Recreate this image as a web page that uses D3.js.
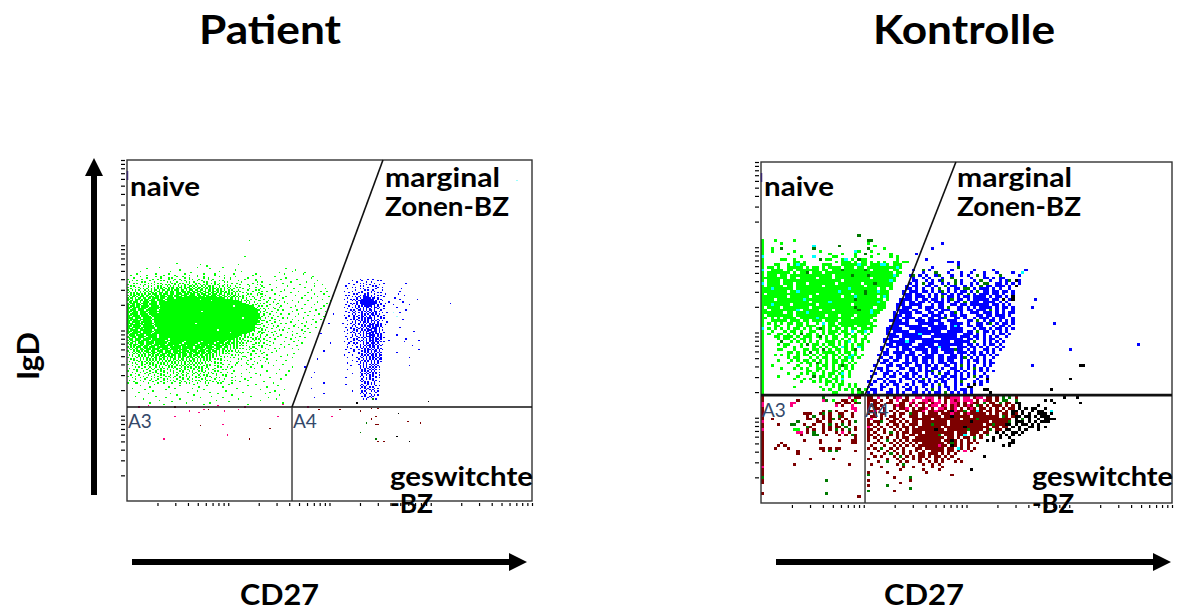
<!DOCTYPE html>
<html lang="en">
<head>
<meta charset="UTF-8">
<title>Patient / Kontrolle</title>
<script src="https://d3js.org/d3.v7.min.js"></script>
<style>
  html, body { margin: 0; background: #fff; }
  svg { display: block; }
  text { font-family: Lato, sans-serif; font-weight: 700; fill: #000; }
  .cells rect { shape-rendering: crispEdges; }
  .tick line { stroke-width: 1.2; }
</style>
</head>
<body>
<svg width="1180" height="611"></svg>
<script>
// Patient panel, channels 0-255 on both axes
// naive cloud, one string per row from channel y=170 downwards, starting at x=0
const patientNaiveTop = 170;
const patientNaiveBand = [
  "......#...........#.......#.........#...........#......#...........#.............#.......",
  "..#.........#..........#......#........#....#..........#.....#.................#.........",
  "........#.........#..#.........#...#........#...#.........#.........#...............#....",
  "....#.......#........#....#.#.......#..#........#..#.........#...#..........#............",
  "#........#......#..#......#...#..#.....#.#...#.....#..#..........#........#......#.......",
  "...#..#.......#......#.#.....#....#.#.......#..#.....#....#.#.........#..........#.......",
  ".#.......#.#.....#.......#.#...#.....#.#..#.....#.#....#.....#.#........#.........#..#...",
  "....#.#......#.#...#.#......#.#..#.#...#...#.#....#..#.#..#.......#..#.........#.........",
  "#.......#..#.....#....#.#.#...#.#...#.#..#.#..#.#.#....#.#...#.#.......#....#.....#......",
  "..#.#.....#..#.#...#.#...#.#.#..#.#.#..##.#.#..#.#.##.#...#.#..#.#..#........#.......#...",
  "#....#.#.....#...#.#.#.#..#.##.#.##.#.##.#.#.##.#.#.#.#.#.#..#..#....#.#.........#.......",
  "..#.....#.#.#..#.#.#.##.#.#.##.##.#.##.##.#.##.#.##.#.##.#.#.#.#.#.#.....#...#......#....",
  "#..#.#.#...#.#.#.##.#.##.##.#.###.##.#.###.##.##.#.##.#.##.#.#..#.#...#.....#....#.......",
  ".#...#..#.#.#.##.#.##.#.##.###.##.###.##.##.###.##.##.##.#.##.#.#..#.#.#.......#.....#...",
  "#.#.#.#.#..#.#.##.#.###.##.###.###.##.###.###.##.###.##.##.#.##.#.#.#....#.#.......#.....",
  "..#.#.##.#.#.##.###.##.###.###.####.###.###.##.###.##.###.##.#.##.#.#.#.....#.#.....#....",
  "#.#.##.#.##.##.#.###.###.####.###.####.####.###.####.###.##.##.#.#.##.#..#.#......#......",
  ".#.##.#.###.#.###.##.####.###.#####.###.####.####.###.###.##.##.#.##.#.#.#...#.#.....#...",
  "#.##.#.##.##.##.####.###.#####.####.####.#####.###.####.###.##.#.##.#.#..#.#....#........",
  "##.#.###.#.###.###.####.#####.#####.#####.####.#####.###.####.##.##.#.#.#..#..#..#....#..",
  "#.##.##.##.##.####.#####.#####.#####.#####.#####.####.#####.###.##.#.##.#.#.#.......#....",
  ".##.###.#.####.####.######.#####.######.#####.#####.#####.####.###.##.#.#..#.#..#........",
  "#.###.##.####.#####.#####.######.######.######.#####.#####.####.##.#.##.#.#..#....#.#....",
  "##.##.###.###.#####.######.#######.######.#######.######.#####.###.##.#.#.#.#..#.........",
  "#.###.##.#####.#####.#######.#######.#######.#######.#####.#####.##.###.#.#..#.#...#.#...",
  "###.####.####.######.#######.########.#######.#######.######.####.##.#.##.#.#.....#......",
  "##.###.#####.#######.########.#######.########.#######.#####.#####.###.#.#..#.#.#.....#..",
  "#.####.####.#######.########.########.#########.######.######.####.##.#.##.#.....#.#.....",
  "###.###.#####.#####.#########.########.########.#########.#####.####.##.#.#.#.#.....#....",
  "##.####.####.######.##########.#########.########.##########.####.###.##.#..#.#.#...#....",
  "#.#####.#####.########.#########.##########.##########.#########.####.#.##.#.#.....#..#..",
  "###.####.#####.#########.##########.###########.###########.#####.###.##.#.#..#.#........",
  "##.#####.######.#########.###########.###########.##########.####.###.#.#.##.#...#.#.....",
  "####.####.######.##########.###########.##########.###########.####.##.##.#.#.#.....#....",
  "#.#####.#######.###########.############.###########.#########.#####.##.#.#.#...#.#......",
  "###.#####.######.###########.############.##########.#########.####.###.#.##.#.#.....#...",
  "##.#####.#######.############.###########.#############.#######.#####.##.#.#..#..#.#......",
  "####.#####.######.###########.#############.###########.#########.###.###.#.#.#.#....#....",
  "#.######.#######.#############.###########.#############.#######.####.##.##.#.#...#.#.....",
  "###.#####.#######.###########.##############.###########.#########.###.#.##.#.#.#.....#..",
  "##.#####.#########.###########.#############.#############.######.####.##.#.#..#.#.......",
  "####.#####.#######.#############.############.###########.#######.###.###.#.#.#....#.#....",
  "#.#####.########.##############.#############.###########.######.####.##.#.##.#.#........",
  "###.#####.#######.############.#############.############.#######.###.#.##.#..#.#...#....",
  "##.######.######.############.#############.###########.#########.###.##.#.#.#.....#.#....",
  "#.#####.#######.#############.###########.############.#######.####.##.#.#.#.#.#.........",
  ".####.#####.#######.##########.############.##########.#########.###.#.##.#..#.#....#....",
  "#.####.#####.######.###########.##########.###########.######.####.##.#.#.#.#.....#......",
  "##.###.####.#######.##########.###########.#########.########.###.##.#.#..#.#.#.....#....",
  ".###.####.#####.##########.##########.###########.#########.####.###.#.#.#.....#.#.......",
  "#.##.###.#####.#########.###########.#########.##########.#####.##.#.#..#.#.#.......#....",
  ".#.###.####.#####.########.#########.##########.#########.####.###.#.##.#...#.#..........",
  "#.##.#.####.#####.#######.#########.#########.#########.#####.###.##.#.#.#.#.....#.#.....",
  ".##.###.###.####.#######.########.#########.#######.#######.###.##.#.#..#.......#........",
  "..#.##.###.###.#####.########.#######.########.#######.######.##.#.#.#.#.#.#.........#...",
  "#.#.#.###.###.####.#######.#######.#######.######.#####.####.###.#.#.#.......#.#.........",
  ".#.#.##.##.####.#####.#####.######.#######.#####.#####.####.##.#.#.#.#.#.#.......#.......",
  "..#.#.#.###.###.####.#####.#####.#####.######.####.####.###.##.#.#..#......#.#...........",
  "#...#.##.#.###.###.####.####.#####.####.####.####.###.###.#.#.#.#.#.#.#.........#........",
  ".#.#.#.##.#.###.###.###.####.###.####.###.####.###.###.##.#.#..#.....#.#.#...............",
  "....#.#.#.##.#.###.##.###.###.####.###.###.###.##.###.#.#.#.#.#.#.......#.....#..........",
  ".#.#...#.#.#.##.#.##.###.##.###.##.###.##.###.##.##.#.#.#.#.......#.#.#..................",
  "...#.#.#.#.#.#.##.#.##.##.###.#.##.##.###.#.##.##.#.#.#.#..#.#.#.........#...............",
  "#.....#.#.#.##.#.##.#.##.#.##.#.##.#.##.##.#.#.##.#.#.#......#...#.#.......#.............",
  "..#.#...#.#.#.#.#.#.##.#.#.#.##.#.##.#.#.##.#.#.#.#.#..#.#.#..........#..................",
  "....#.#.#...#.#.#.#.#.#.#.##.#.#.#.#.#.##.#.#.#.#.#.#......#.#.#............#............",
  ".#.....#.#.#.#.#.#.#..#.#.#.#.#.#.#.#.#.#.#.#.#..#.#.#.#.........#.......................",
  "...#.#...#..#.#.#..#.#.#.#..#.#.#.#.#..#.#.#.#.#.#.....#.#.#.........#...................",
  "#.....#..#.#..#.#.#..#.#.#.#.#.#..#.#.#.#.#.#.#...#.#.......#...#...........#............",
  "...#.....#...#..#.#.#...#.#.#..#.#.#.#.#..#.#...#.#.#..#.#..........#....................",
  ".....#.#...#..#...#.#.#...#.#.#...#.#.#.#..#.#.#..#......#.#...#.........................",
  ".#.......#...#.#.#...#.#.#...#.#.#..#...#.#..#.#.#.#...#.........#.......................",
  "....#.#.....#...#..#.#...#.#...#..#.#.#...#.#..#...#..#.....#.#............#.............",
  "#.....#...#...#...#..#.#...#.#...#.#...#.#...#.#.#.....#.#.........#.....................",
  "...#....#...#...#.#....#.#...#.#...#.#...#.#....#..#.#.....#...#.........................",
  ".....#.....#..#....#.#...#...#..#.#...#...#.#.#....#..#.#.........#..............#.......",
  "..#....#.....#...#...#.#...#...#...#.#...#...#..#.#.....#...#.#..........................",
  "#....#....#....#...#....#.#...#..#...#.#...#..#...#.#.........#.........#................",
  "...#....#...#....#...#.....#.#...#.#...#...#.#...#...#..#.#.......#......................",
  ".....#.....#...#...#...#.#.....#...#..#..#.....#.#.....#.....#...........................",
  ".#......#.....#...#....#...#.#...#.....#...#.#....#.#.....#.........#.......#............",
  "....#.....#.....#....#...#....#...#.#....#....#..#....#.#...#............................",
  "#.....#......#.....#...#....#....#...#.#....#....#.#.....#........#......................"
];
// solid middle of the naive cloud: [y, x0, x1, x0, x1 ...]
const patientNaiveCore = [
  [153,38,42,50,56],[152,32,40,46,60],[151,28,44,47,66],[150,30,52,55,70],[149,26,48,50,72],[148,24,60,63,74],
  [147,22,42,45,76],[146,28,66,68,78],[145,20,50,52,80],[144,24,38,40,81],[143,22,58,60,80],[142,18,46,49,82],
  [141,26,70,72,82],[140,20,34,36,83],[139,24,60,62,82],[138,18,44,46,83],[137,22,72,74,84],[136,16,38,40,82],
  [135,24,54,56,83],[134,20,66,68,82],[133,22,42,44,81],[132,18,60,62,82],[131,26,48,50,80],[130,20,70,72,81],
  [129,24,36,38,80],[128,22,56,58,79],[127,26,44,46,78],[126,24,64,66,76],[125,28,50,52,75],[124,26,38,41,72],
  [123,30,58,60,70],[122,28,46,49,68],[121,32,54,56,64],[120,34,42,46,60]
];
// the thin right wing of the cloud: [y, x, x, x ...]
const patientNaiveWing = [
  [162,84,90],[160,86,94],[158,83,91],[157,88,97],[155,82,85,93],[154,87,96],[152,84,90,98],[151,86,93],[150,83,89,96],
  [149,88,92,99],[148,84,86,95],[147,81,90,94],[146,85,88,97],[145,92,96],[144,84,89,93],[143,82,87,95,98],[142,86,91],
  [141,84,88,94],[140,90,97],[139,83,86,92],[138,85,89,95],[137,87,91,98],[136,84,93],[135,86,90,96],[134,82,88,93],
  [133,85,91,97],[132,83,89],[131,86,92,95],[130,84,88,94],[129,82,91],[128,85,87,96],[127,83,89,93],[126,86,91],
  [125,82,85,94],[124,88,92],[123,84,87,95],[122,81,90],[121,83,86,93],[120,80,88],[119,84,90],[118,81,86,92],[117,79,88],
  [116,83,90],[115,80,85],[114,78,87,93],[113,82,89],[112,79,84],[111,76,86,91],[110,81,85],[109,78,88],[108,74,83],
  [107,80,86],[106,72,78],[105,76,84],[104,70,87],[103,75,82],[102,68,79],[101,72,85],[100,66,78]
];
// loose events of the naive cloud outside the band: [y, x, x, x ...]
const patientNaiveLoose = [
  [195,77],[183,74],[178,31],[177,46,70],[176,50],[175,20,44,60],[174,12,52,100],[173,33,68,106],[172,8,27,58,72,104],
  [171,40,96,112],[170,99,111],[168,93,117],[167,100,116],[166,107,97],[165,94,120],[164,103,113],[163,98,118],
  [162,109,123],[161,101,118],[160,112],[159,105,125],[158,99,116],[157,108,122,126],[156,103,114],[155,118,124],
  [154,106,112],[153,100,120,127],[152,110,116],[151,123],[150,104,114,128],[149,108,120],[148,101,126],
  [147,112,118],[146,106,124],[145,103,116],[144,110,122],[143,107,119],[142,104,115,125],[141,112],
  [140,102,108,121],[139,114,118],[138,106,124],[137,101,111],[136,104,117,122],[135,108],[134,103,113,119],
  [133,100,110],[132,106,116],[131,105,112],[130,99,108,119],[129,102,114],[128,98,110],[127,104,112],[126,101,115],
  [125,107,111],[124,97,104],[123,109],[122,100,106,112],[121,103],[120,108],[119,99,105],[118,110],
  [117,97,102],[116,107],[115,99],[114,96,104],[113,108],[112,94],[110,105],[109,101],[108,97],[107,104],
  [106,88],[105,94,100],[104,80],[103,89],[102,98],[101,92],[100,85,104],[99,80],[98,96],[97,88,102],
  [96,77],[95,72,94],[94,84,100],[93,68],[92,78,90],[91,74,97],[90,66],[89,71,86],[88,5,59,92],[87,17,42,64,81],
  [86,8,33,50,76,95],[85,14,26,45,60,88],[84,3,30,41,69],[83,11,24,48,84,99],[82,16,44,62,93],[81,7,38,52,73,90],
  [80,13,27,57,87],[79,31,42,66,96],[78,5,18,53,78],[77,24,46,60,89],[76,10,33,70,94],[75,20,41,56,84],[74,28,64],
  [73,14,37,52,98],[72,23,48,76]
];
// marginal zone cluster, strings from channel y=166 downwards, starting at x=136
const patientMarginalTop = 166;
const patientMarginalBand = [
  "...........#....#..#...........",
  "......#.....#.........#.#....",
  ".........#.....#..#.........",
  "....#......#.#......#.....#...",
  ".......#.......#.#.....#.......",
  "..#........#.#.....#.#.......",
  "......#.#.......#.....#..#....",
  "...#.......#.#.......#........",
  "........#.....#.#..#.....#.....",
  ".#....#.....#.....#.#.........",
  "....#.....#.#...#.#...#.#.....",
  ".......#.#....#.#...#......#..",
  "..#.#......#.##.#.#...#.#......",
  "......#.#.#..####.#.#.....#....",
  "...#.....#.#.#####.##.#......",
  ".#...#.#.#..########..#.#......",
  "......#.#.##########.#...#.....",
  "...#.....#.###########.#.....#.",
  ".....#.#.#.###########..#..#...",
  "..#...#..#..#########.#.#......",
  "....#...#.#.#.#####.#.#...#...",
  ".#....#.#.#..#.##.#.##.#.....",
  "...#.....#.#.#.#.#..#.#...#...",
  ".....#.#..##.#.#.##.#...#.....",
  "..#...#.#...#.#.#.#.##.#.......",
  "....#..#..#.#..#.#.#.#...#..#..",
  "......#.#...#.#.#.##.#.#.......",
  ".#..#..#..#.#.#..#.##.#...#....",
  "....#..#.#..##.#.#..#.#.#......",
  "..#....#..#.#.#.###.#...#.#....",
  ".....#.#.#..#.#.#.#.#.#........",
  "...#....#.#.#.#.#.##.#.#.#.....",
  "......#.#..#.##.#.#.#.#.....#..",
  "#....#..#.#..#.#.#.##.#.#......",
  "...#...#..#.#.#..###.##.#..#...",
  "......#.#...#.#.##.#.##.#......",
  "..#..#...#.#.#.#.#.###.#.#.....",
  ".....#.#..#.#..##.####.#.......",
  "...#...#.#..#.#.###.##.#.#.....",
  ".#....#..#.#.#.##.####.#.......",
  ".....#.#...#.#.#.###.#.#..#....",
  "...#....#.#..#.###.#.##.#......",
  "......#.#..#.#.#.####.#.#......",
  "..#...#..#...#.###.##.#.#......",
  ".....#....#.#.#..###.#.##.#....",
  "...#...#.#...#.#.#.#.##.#......",
  ".......#..#.#..#.###.#.#.......",
  ".#...#.....#.#.#.#.#.##.#.#....",
  "....#..#.#...#.##.###.#........",
  "...#....#..#.#.#.#.#.#.#.#.....",
  "......#....#..#.##.##.#.#......",
  "...#.....#.#.#.#.#.##.#........",
  ".....#......#.#.#.#.#.#.#......",
  "..#....#..#...#.##.#.#.#.#.....",
  ".......#....#.#.#.#.##.#.......",
  "....#.....#...#.#.#.#.#.#......",
  "..........#.#..#.#.#.#.#.......",
  ".#....#.....#.#.#.##.#.##......",
  "...........#.#.#.#.#.#.#.......",
  "...#.....#..#..#.#.##.#.#......",
  "..........#..#.#.#.#.#.##......",
  "......#.....#.#.#.#.#.#........",
  ".........#.#..#.#.#.#.#.#......",
  "...#.......#.#.#..#.#.#........",
  "..........#..#.#.#.#.#.........",
  ".....#.....#.#.#..#.#.#........",
  "...........#.#.#.#.#.#.#.......",
  "...........#..#.#.#.#..........",
  "...#........#.#..#.#.#.#.......",
  "............#.#.#.#.#..........",
  "...........#...#.#.#.#.#.......",
  "......#.....#.#.#..#.#.........",
  "............#..#.#.#...#.......",
  "...........#.#...#.#.#.........",
  "..#..........#.#.#...#.#.......",
  "............#..#.#.#...........",
  "...........#.#.....#.#.........",
  "............#.#.#...#..#.......",
  "..............#.#.#.#..........",
  "..#.........#...#.#.#..........",
  "...........#.#.#.....#.#.......",
  "............#.#..#.#...........",
  "...........#..#.#...#.#........",
  "...............#.#.#...........",
  "......#.....#.#...#.#.#........",
  "............#..#.....#.........",
  "...........#.#.#.#.............",
  "..............#...#.#.#.......",
  "............#.#..#.#...........",
  "................#.#............",
  ".............#.#...#.#........."
];
// stragglers on the left and right of the cluster: [y, x, x ...]
const patientMarginalLoose = [
  [163,176],[159,173],[157,172],[155,171],[154,175],[152,169],[151,172,183],[149,174],[148,204],[147,168,178],
  [145,170],[143,176],[141,172],[136,174],[130,172],[127,181],[124,170],[121,176],[120,165,184],[119,175],[116,180],
  [113,184],[111,170],[107,178],[101,178],[106,120],[112,124],[118,128],[125,122],[133,127],[140,130],[100,112],[96,118],
  [92,116],[88,124],[84,116],[80,124],[77,118]
];
const patientPink = [[13,71],[30,63],[39,67],[45,66],[48,68],[57,71],[61,67],[70,68],[74,70],[60,57],[63,49],[23,46],[95,63],[98,72],[7,70],[114,70],[129,63]];
const patientMaroon = [[30,70],[51,68],[46,56],[77,46],[90,54],[121,68],[134,68],[147,67],[154,69],[158,69],[157,63],[154,61],[157,57],[158,57],[162,44],[158,44],[177,59],[185,58]];
const patientDarkGreen = [[151,58],[147,51],[157,46],[155,76]];
const patientBlack = [[170,48],[178,44],[171,65],[190,74],[145,73]];
const patientCyan = [[246,240],[168,141],[150,120],[170,138]];

// Kontrolle panel, channels 0-127
// g green, b blue, r dark red, p pink, k black, d dark green, c cyan
const kontrolleNaiveTop = 100;
const kontrolleNaive = [
  "..............................d",
  "",
  "g...g.....g......................dd",
  "g.....g..........................g",
  "g...............c.......d..........g",
  "g..g..d.........d................d....g",
  "g..g......g.......g..........cg...g",
  "g.......g............g...g...g..d...g...g",
  "c...........g...c.....gg.....g....g.....g.g",
  "g.....gg..g.......d.gg...gc.g.dgg.........g",
  "g.........gg.g.........g.ggg.g.gg.g.g.g..gg.gg",
  "g...gg..g.gcgg.....ggg...gggggcgg.gggccg.ggg",
  "g.gg.g..ggggg.g.gg.g.gggg.ggg.gg.gggggggggcg",
  "c..gggg.gg.ggggggg.gg.gggdggggggdg.ggggg.gg",
  "g.ggggggg.g.ggd.ggg.ggggggggggggggggggggg.gg",
  "g.ggg.gg.ggggggggggggg.gggggdggggdgggggggcg",
  "gggggggg.gg.ggggg.gggg.ggggggggggg.ggggggg",
  "g.gggg.gggggggggggggggggg.ggggggggggggggcg",
  "c.gggg.ggg.ggg.gggggggg.ggggggg.gggdggggg",
  "g.ggggg.gg.gggggggg.gggggggggggg.gggggggg",
  "gggcgggggg.ggggggggggggggggcgggggggg.gg.g",
  "gggggggg.ggcggggggggggggcgggggggdgggcggg",
  "g.ggggggggggggggg.gggggggggg.gggdggggggg",
  "gggggggg.gggggg.ggggggggg.gggcgggggg.gcg",
  "gggg.ggggggggcgggggggggggggggdgggggggg.g",
  "ggggggggggggggg.gggggcggggggggggggggcgg",
  "gggcggggg.ggggggg.gggggggggg.gggggggggg",
  "g.gggg.gggggggg.gggggggggggggdggggg.ggg",
  "gg.ggggggggc.ggggg.ggg.gggggggdgggcggg",
  "ggggggg.gg.gggcgggggggggggggggggggcgg",
  "g.gggggggg.ggggggggg.ggg.gggg.gggggg",
  "gg.g.g.gggg.gggggcgggggggggg.gggggg.",
  "g..ggggg.ggg.gg.ggg.gggg.ggggggggg.g",
  "g.g.g.g.gg.gg.g..g.c.gg.ggggggggggg.",
  "g...gg..g..gg.ggg..g.ggg.gggg.ggg.gg",
  "c.g.g.g.g.gg.g.g.gdg.g.gg.g.gg.gggg",
  "g..g...g.gg.g..gg..g.ggg.gg.c.ggc.g",
  "g.g..gg.g.g.d.gg.g.g.gg.g.gg.g.g.g",
  "g...gg.ggg.g.ggg.gd.g.gg..g.gg..g.",
  "g....g.gg.g.gg.g..g.g.gg.g.g.g.gg",
  "g.....d..g.g.g.g.g..ggg.g.gc.g.g.g",
  "g....g.gg...g.d.gg.g.gg.g.g.g.gg",
  "g......g..g.g...g.g.g.gg.cg.g.cg",
  "g....gg...g..gg.gg.d.g.gg.g.gd.g",
  "g.......gg.g.g.d.g.gggg.g.gg.g.",
  "g...g.g.g..g.gg.g.g.g.gg.g.gcg.g",
  "g.......g.gg...g.g.gg.g.g.gcg.g",
  "g....g...g.g.gg.g.g.g.gg.gg.g.",
  "g.......g...g.gg.dg.g.gg.g.g.g",
  "g..g.......g...g.g.gg.g.gdg.g",
  "g.....g...g.g.g..gg.g.g.g.g.g",
  "g.............gg.g.g..gg.g.g.",
  "g.......g...g.g.g..g.gg.gc.g",
  "g....g.....g....d.gg.g.g.g.g",
  "g.........g..g.g..g.g.gg.c.",
  "g...........g...g.g.gg.g.g.",
  "g...................g.g.gg.g.g",
  "g.........g.......g...g.g..g.g.",
  "g..................g.g..g.g.g.d.g",
  "g.....................gg....g.gd.."
];
// marginal zone: [y, first column, cells]
const kontrolleMarginal = [
  [97,56,"b"],[95,53,"b"],[93,48,"b"],[91,51,"b"],[90,58,"bb.b"],[89,60,".b"],
  [88,53,"b.......d"],[87,47,"b..d.b......b......b.....b.........b"],[86,50,"b...d...b...b..b...b...b....b..c"],
  [85,46,"bd.b.b..bd...b..b.b..d.b....d.....b"],[84,47,"b..b.b...b..d.....b...bb.b.bb"],
  [83,46,".bb..b.b.bd...d.b...b.d..b..b.bd.kb"],[82,46,"b.b.d.bb..b.b.d.b..b.b.dd..bb.b.b.b"],
  [81,45,"b.bb..bb.b..d.bb..b.b..d.bb.bbb.b.k"],[80,45,"bb.b.b..b.d..b.bb.dd.b.bbb.b.b..b"],
  [79,44,"b.bbb.bb.b.bd.b.b.bb.b.d.bb.bb.bb.b"],[78,44,"bbb.bb..b.b.bb.b.bb.d.b.bbb.bb.b..b"],
  [77,44,".bb.bbb.b.b.d.bb.b.bb.bbbb.b.bb.b.k"],[76,43,"bbbb.b.bb.bb.b.bd.bb.b.bbbbb.bb.k.bk"],
  [75,43,"bb.bb.bb.b.bbb.b.bb.d.bbb.bbbb.b.b"],[74,42,"bbb.bbbb...b.bb..bb.bb.bbbbbb.bb.b.b"],
  [73,42,"b.bbb..b.bbb.bb.d..bb.b.b.bbbb.b.bb.b"],[72,42,"bbbb.bb..bb.b.bbb..bb.bb.bbb.d.b.b..b"],
  [71,41,"b.bbbb.bb..bb.bb..bd.b..bbb.bbb.b.b.bb"],[70,41,"bbb.bb...bb.bbb.b.bb.bb...bb.bb.bbb.b"],
  [69,41,"bb.bbbb.b..bb.bbd..bb.b..b.bbb.b.bb..b"],[68,40,"bbbb.b..bbb.bbbb..bbb...bb.d.b.bb.b.b.b"],
  [67,40,".bbbbb...bbbbb.bb..bbbb.b..bb.bd.b.bb.b"],[66,40,"bbb..bbbbb..bbbbbb.bcb..bb.bb...b.bb.b"],
  [65,39,"bbbbb..bbbbbb.bbbbb.bbbb...b.bb.b.bb.b.b"],[64,39,"b.bbbbb..bbbbbbbb..bbbbb.bb.d.bb.b.b.b"],
  [63,39,"bbb..bbbbbcbbb.bbbbbbb..bbb.b.b..b.bb.b"],[62,38,"..bbb.bbbbbb...bbbbbbbb.bbb.bb.b.b.b..b"],
  [61,38,"bbb..bb.bbbbbbbb..bbbbbbb.bb.b.b.bb.b"],[60,38,"b.bbbbbcbb..bbbbbbbbb.bbbbb.d..b.b.b.b"],
  [59,38,".bb.bbbbb..bbbbb.bbbbbbbb.bb.b.b.bb.b"],[58,37,"b..bbb.bb.bbbb.bbbcbbb..bbb.bb.b.b..b.b"],
  [57,37,"b.b..b.bbb.bbbb.bb.bbbbdbb.b.b..bb.b.b"],[56,37,".bb.bbbb.bb..bb.bb..bbb.bbb.bb.b.b.b"],
  [55,36,"b.bb..bb.bbb.b.bbb.bb..bb.b.b.b.bb.b.b"],[54,36,".b..b.bb.b.bb.bbbb.bb.bbb.bd.b.b.b..b"],
  [53,36,"b.bb.bb..b.bb.bb.b.bb.bb..b.b.bb.b.b"],[52,35,"..bb.b...bbb.b.bb.b.bbb.bb.b.b..b.b.bb"],
  [51,35,"b...bb.bb.b..bb.bb.b..bb.b.d.b.b..b.b"],[50,35,".bb.b...bb.bb.b.b.bb.b..bb.b.b.d.b.b"],
  [49,34,"b..b.bb.b...bb.b.bbd.b..b.bb.b..b.b.b.b"],[48,34,".b..bb.b.b.b.bb..b.b.d.bb.b.b.b.b..b"],
  [47,34,"b...b.bb..bb.b.b.b..b.bb.bb.b.b.d.b.b"],[46,34,"..bb.b...b.bb.b.d.b..bb.b.b.bb...b..k"],
  [45,33,"b.b..b.bb.b...b.bb.b.b.bb..b.d...b.b.b.."],[44,33,".b..b.b.bb..b.b..bb.b.d.b..b.b.b.k.b"],
  [43,33,"b...bb...b.b.b.b.b..b.b.bb.b...kk"],[42,33,".bb.b..b.b..bb.b..b.d.b..b.b.bb.b...kk"],
  [41,33,"b.b...bb.b.b..bb.b.b.bb.d.b.b.b.b.....k"]
];
const kontrolleBlueOutliers = [[117,59],[96,57],[91,67],[84,73],[85,76],[84,51]];
const kontrolleBlackOutliers = [[99,51],[96,46],[100,51],[90,42],[94,40]];
// below the gate, left of the vertical gate, from row 39 downwards
const kontrolleLowerTop = 39;
const kontrolleLowerLeft = [
  "r..................d.......p.rr",
  "r..........r.......pd.g..rr.rg",
  "p........pp............rr.rr.rd",
  "p........p.............p.r..p.",
  "r...........................pp",
  "r..................r.d.r..r..p",
  "r............rrr..rd.r..rr..r.",
  "r.............r.d..r.r..dr..r",
  "r..r..........rr.r.r.rd.r.r.",
  "p..........d.....rr..r...r.r.d",
  "r....r...dd..r..r..r.d.r.d.r",
  "r.............dr...r.r.rr.d..r",
  "p.........gg..r.r..r.r.d.r.d.r",
  "r..........pp.r.d..r...r.p.r.",
  "r...........r...dd..r...r.r.dr",
  "r............................r",
  "r............r....r.....r...rr",
  "r.....r...........r.........rr",
  "r....r.r.........................",
  "r...r...r.........rr.r.rr.....",
  "r..........r.......r.d.d.....r",
  "r..........r.............",
  "r..........................",
  "r..............r......r....",
  "r..............",
  "r.........r................r.",
  "p...............................",
  "r................",
  "r.................",
  "r.................",
  "d.........................",
  "r...................d....",
  "r.......................",
  "..........................",
  "...........................",
  ".............................",
  "r...................d.........",
  "..............................r"
];
// right of the vertical gate, starting at column 33
const kontrolleLowerRight = [
  "rr.p..r.rpp.r..pp.ppp.r.rrppp.pp.rpp.rr.r.d.d.r..............k...k",
  "rrr.r..r.p.rr.p..pprp.p.r.prp.ppp.r.prr.r.dd..d........k.k...",
  "r.rr..rr..rr.pr.rrp.rpp.r.ppr.r.prr.d.rr.d.rr.kk..........k.......k",
  "rrr.r...rprr.r.p.r.rpp.rp.rpr.rpr.dr.r.rrr.r.r.k.....k..",
  "r.rr.r..r.rrp.r.rrp.r.ppr.rp.r.rpr.rr.r.r.r.rr.k.k.kk..k",
  "rrp..r.r.r..r.rrrp.rrprr.rkprrd.rrcr.rr.rr.r.kk.k..k.kk..c",
  "r.r.rr..r.rr.drr.r.rrr.rrrprr.rprrrrr.r.r.rr.kr.k.k..kkk.k",
  ".rr.r..rr.r..rrr.rrrrrr.rrkrrrrr.rrrrrrrr.dr.rkk.kk.k.kkk..",
  "rp..r.r.rr.r..rrrrrr.rrrrrrrr.rrrrdrrrrrrrrrr.k.d.k..k.kkkk",
  "r.rrd..rr.r.r.rr.rrrrrrrr.rrrrrrkrrrrr.rrrrrd.kkk.k.k.kkk",
  "rr.r..r.rr.r.rrr.rrrdrrrr.rrrrrrrrrr.rrdrrrkk.k.kk.k.k.",
  "p.r.r..r.r.rr.r.rrrrrrr.rrrrrrkrrrrrrr.rr.rr.k.k..kk.k.k",
  "rr.r.r..r.r.r.rrrrrrrkrr.rrrrrrdrrrr.rd.rr.kk..k.k...k",
  "r.r..r.d.r.rr.rrr.rrrrrrrrr.rrr.rrr.rr..k.k..kk.k",
  "rr.r...r.r.r.rr.rrrrrrd.rrr.rrc.rr.r.d...k.k.k.k",
  "r.r.r.r..r.rr..rrrrrrrrr.rr.r.rr.d.r...k.k..k",
  "r..r..d.r.r.r.rrrrrrrrr.rrkr.r.r.r...k.k.....k",
  "..r.r..r.r.r.r.r.rrrrrrr.rdr.r.rr.r.........kk",
  ".r...r..r.r.r.r.rrrrrrprr.kr.r.r..........k.k",
  "r.r.d..r.r.r...rr.rrrrrr.rr.cr.r.r............",
  "...r..r.r..r.r.r.r..rrrr.rr.r.p.r",
  ".r...r.d.r.r.r..rr.rrr.r.r.r",
  "..r.r...r.d.r.r.rr.r.rr.r.r.........k",
  "r.....r..r.r..r.r.r..r.r.r..r",
  "...r..d...r.r...r..r.r.r...r.r",
  ".r.......r.d.....r..r.r.........",
  "....r......r..r.....r..r.....",
  "..........r......r....r.........k",
  "r.....r...........r.........",
  "d.........................r",
  "........r....d........",
  "r............r.................",
  "..........r..................",
  "r.....d..........",
  ".............d.......",
  "d.......r...................",
  "............................",
  "..............................."
];

const cellColors = { g: "#00ff00", b: "#0000ff", r: "#7d0000", p: "#ff0080", k: "#000000", d: "#007a00", c: "#00ffff" };

const decades = [1, 10000];
const svg = d3.select("svg");

function drawFrame(box, channels) {
  const x = d3.scaleLinear().domain([0, channels]).range([box.left, box.right]);
  const y = d3.scaleLinear().domain([0, channels]).range([box.bottom, box.top]);
  const xLog = d3.scaleLog().domain(decades).range([box.left, box.right]);
  const yLog = d3.scaleLog().domain(decades).range([box.bottom, box.top]);
  const g = svg.append("g");
  const ticks = xLog.ticks().filter(d => d > 1);
  g.append("g").attr("transform", `translate(0,${box.bottom + 2})`)
    .call(d3.axisBottom(xLog).tickValues(ticks).tickFormat("").tickSize(3))
    .call(a => a.select(".domain").remove());
  g.append("g").attr("transform", `translate(${box.left - 2},0)`)
    .call(d3.axisLeft(yLog).tickValues(ticks).tickFormat("").tickSize(4))
    .call(a => a.select(".domain").remove());
  return { x, y, g };
}

function drawGates(p, box, gate, width) {
  const { x, y, g } = p;
  g.append("rect").attr("x", box.left).attr("y", box.top)
    .attr("width", box.right - box.left).attr("height", box.bottom - box.top)
    .attr("fill", "none").attr("stroke", "#333").attr("stroke-width", 1.4);
  g.append("line").attr("x1", box.left).attr("x2", box.right).attr("y1", y(gate.y)).attr("y2", y(gate.y))
    .attr("stroke", "#111").attr("stroke-width", width);
  g.append("line").attr("x1", x(gate.x)).attr("x2", x(gate.x)).attr("y1", y(gate.y)).attr("y2", box.bottom)
    .attr("stroke", "#333").attr("stroke-width", 1.4);
  g.append("line").attr("x1", x(gate.x)).attr("x2", x(gate.topX)).attr("y1", y(gate.y)).attr("y2", box.top)
    .attr("stroke", "#111").attr("stroke-width", 1.6);
  g.append("line").attr("x1", box.left + 0.5).attr("x2", box.left + 0.5).attr("y1", box.top + 11).attr("y2", box.top + 20)
    .attr("stroke", "#3a2a70").attr("stroke-width", 1.5);
}

function cells(p, data, color) {
  const w = p.x(1) - p.x(0);
  const h = p.y(0) - p.y(1);
  p.g.append("g").attr("class", "cells").attr("fill", color).selectAll("rect").data(data).join("rect")
    .attr("x", d => p.x(d[0])).attr("y", d => p.y(d[1] + 1))
    .attr("width", w).attr("height", h);
}

// [y, x, x, ...] rows, [y, x0, x1, ...] spans and string rows into [x, y, code] cells
const looseCells = rows => rows.flatMap(r => r.slice(1).map(v => [v, r[0]]));
const spanCells = rows => rows.flatMap(r => d3.range(1, r.length, 2).flatMap(i => d3.range(r[i], r[i + 1] + 1).map(v => [v, r[0]])));
const gridCells = (rows, top, start = 0) => rows.flatMap((row, i) =>
  Array.from(row).flatMap((c, col) => c === "." ? [] : [[start + col, top - i, c]]));

// Patient
const patientBox = { left: 127, right: 532, top: 160, bottom: 501 };
const patientGate = { x: 104.3, y: 70.6, topX: 161.8 };
const pat = drawFrame(patientBox, 256);
cells(pat, gridCells(patientNaiveBand, patientNaiveTop), "#00ff00");
cells(pat, spanCells(patientNaiveCore), "#00ff00");
cells(pat, looseCells(patientNaiveWing), "#00ff00");
cells(pat, looseCells(patientNaiveLoose), "#00ff00");
cells(pat, gridCells(patientMarginalBand, patientMarginalTop, 136), "#0000ff");
cells(pat, looseCells(patientMarginalLoose), "#0000ff");
cells(pat, patientPink, "#ff0080");
cells(pat, patientMaroon, "#7d0000");
cells(pat, patientDarkGreen, "#007a00");
cells(pat, patientBlack, "#000");
cells(pat, patientCyan, "#9ff");
drawGates(pat, patientBox, patientGate, 1.4);

// Kontrolle
const kontrolleBox = { left: 761, right: 1172, top: 162, bottom: 503 };
const kontrolleGate = { x: 32.4, y: 40.5, topX: 60.7 };
const kon = drawFrame(kontrolleBox, 128);
const konCells = gridCells(kontrolleNaive, kontrolleNaiveTop)
  .concat(kontrolleMarginal.flatMap(r => gridCells([r[2]], r[0], r[1])))
  .concat(gridCells(kontrolleLowerLeft, kontrolleLowerTop))
  .concat(gridCells(kontrolleLowerRight, kontrolleLowerTop, 33));
Object.keys(cellColors).forEach(c => cells(kon, konCells.filter(d => d[2] === c), cellColors[c]));
cells(kon, kontrolleBlueOutliers, "#0000ff");
cells(kon, kontrolleBlackOutliers, "#000");
drawGates(kon, kontrolleBox, kontrolleGate, 2.6);

// Text: string, x, baseline y, width in the picture, font size
const labels = [
  ["Patient", 199, 44, 142, 41], ["Kontrolle", 873, 44, 182, 41],
  ["CD27", 240, 605, 79, 29], ["CD27", 884, 605, 80, 29],
  ["naive", 130, 196, 70, 27], ["marginal", 385, 187, 115, 27], ["Zonen-BZ", 385, 216, 124, 27],
  ["geswitchte", 390, 486, 143, 27], ["-BZ", 390, 513, 43, 27],
  ["naive", 764, 196, 70, 27], ["marginal", 957, 187, 115, 27], ["Zonen-BZ", 957, 216, 124, 27],
  ["geswitchte", 1032, 486, 141, 27], ["-BZ", 1032, 513, 42, 27]
];
svg.selectAll("text.label").data(labels).join("text").attr("class", "label")
  .attr("x", d => d[1]).attr("y", d => d[2]).attr("textLength", d => d[3]).attr("lengthAdjust", "spacingAndGlyphs")
  .attr("font-size", d => d[4]).text(d => d[0]);
svg.append("text").attr("transform", "translate(39,380) rotate(-90)")
  .attr("textLength", 48).attr("lengthAdjust", "spacingAndGlyphs").attr("font-size", 31).text("IgD");

const gateNames = [["A3", 128, 428], ["A4", 293, 428], ["A3", 762, 417], ["A4", 865, 417]];
svg.selectAll("text.gate").data(gateNames).join("text").attr("class", "gate")
  .attr("x", d => d[1]).attr("y", d => d[2]).attr("font-size", 19)
  .style("font-weight", 400).style("fill", "#34486a").text(d => d[0]);

// shaft and head of the big axis arrows
function arrow(x1, y1, x2, y2) {
  const p = d3.path();
  if (y1 === y2) {
    p.moveTo(x1, y1 - 3); p.lineTo(x2 - 18, y1 - 3); p.lineTo(x2 - 18, y1 - 9); p.lineTo(x2, y1);
    p.lineTo(x2 - 18, y1 + 9); p.lineTo(x2 - 18, y1 + 3); p.lineTo(x1, y1 + 3);
  } else {
    p.moveTo(x1 - 3, y1); p.lineTo(x1 - 3, y2 + 18); p.lineTo(x1 - 9, y2 + 18); p.lineTo(x1, y2);
    p.lineTo(x1 + 9, y2 + 18); p.lineTo(x1 + 3, y2 + 18); p.lineTo(x1 + 3, y1);
  }
  p.closePath();
  svg.append("path").attr("d", p.toString()).attr("fill", "#000");
}
arrow(94, 495, 94, 158);
arrow(132, 562, 527, 562);
arrow(776, 562, 1171, 562);
</script>
</body>
</html>
